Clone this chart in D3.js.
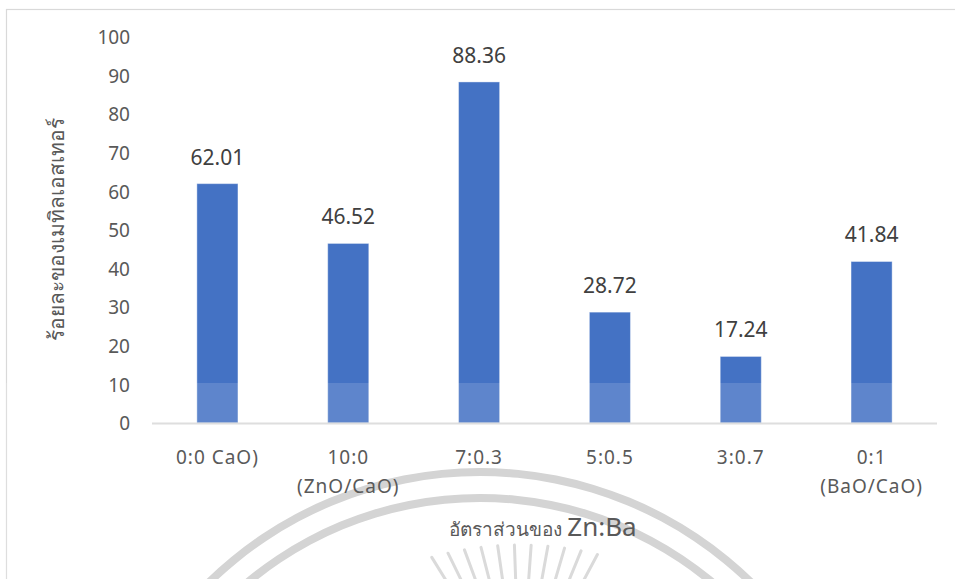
<!DOCTYPE html>
<html>
<head>
<meta charset="utf-8">
<script src="https://cdn.jsdelivr.net/npm/d3@7"></script>
<style>
  html, body { margin: 0; padding: 0; background: #fff; }
  svg { display: block; }
  text { font-family: "Noto Sans", "Open Sans", sans-serif; }
</style>
</head>
<body>
<svg id="chart" width="955" height="579"></svg>
<script>
// Ratio labels (two-line where the category has a parenthetical)
const categories = ["0:0 CaO)", "10:0\n(ZnO/CaO)", "7:0.3", "5:0.5", "3:0.7", "0:1\n(BaO/CaO)"];
// Methyl ester yield (%)
const yieldValues = [62.01, 46.52, 88.36, 28.72, 17.24, 41.84];
const yTicks = [0, 10, 20, 30, 40, 50, 60, 70, 80, 90, 100];
const yTitle = "ร้อยละของเมทิลเอสเทอร์";
const xTitleThai = "อัตราส่วนของ ";
const xTitleLatin = "Zn:Ba";

const svg = d3.select("#chart");
const W = 955, H = 579;

const x = d3.scaleBand()
  .domain(categories)
  .range([152, 937])
  .paddingInner(0.686)
  .paddingOuter(0.343);

const y = d3.scaleLinear().domain([0, 100]).range([423, 37]);

// chart frame
svg.append("rect")
  .attr("x", 6.5).attr("y", 9.5)
  .attr("width", W + 20).attr("height", H + 20)
  .attr("fill", "#fff").attr("stroke", "#d9d9d9").attr("stroke-width", 1.2);

// bars
svg.append("g").selectAll("rect")
  .data(yieldValues)
  .join("rect")
  .attr("x", (d, i) => x(categories[i]))
  .attr("width", x.bandwidth())
  .attr("y", d => y(d))
  .attr("height", d => y(0) - y(d))
  .attr("fill", "#4472c4")
  .attr("stroke", "#ffffff")
  .attr("stroke-opacity", 0.4)
  .attr("stroke-width", 1);

// x axis baseline
svg.append("line")
  .attr("x1", 152).attr("x2", 937)
  .attr("y1", y(0) + 0.5).attr("y2", y(0) + 0.5)
  .attr("stroke", "#d9d9d9").attr("stroke-width", 2);

// light seal watermark: white veil over the lower part plus grey arcs and rays
const wm = svg.append("g");
wm.append("rect")
  .attr("x", 0).attr("y", 383)
  .attr("width", W).attr("height", H - 383)
  .attr("fill", "#ffffff").attr("opacity", 0.14);

const arc = d3.arc();
const seal = wm.append("g").attr("transform", "translate(480,860)");
[[384, 392], [358, 366]].forEach(([r0, r1]) => {
  seal.append("path")
    .attr("d", arc({ innerRadius: r0, outerRadius: r1, startAngle: -Math.PI / 2, endAngle: Math.PI / 2 }))
    .attr("fill", "#d4d4d4");
});
// rays start on a shallow arc and lean in towards a point below them
const rc = [520, 865], rr = 320, focus = [520, 700];
d3.range(-16, 17, 3).forEach(a => {
  const t = (a - 90) * Math.PI / 180;
  const px = rc[0] + Math.cos(t) * rr, py = rc[1] + Math.sin(t) * rr;
  const dx = focus[0] - px, dy = focus[1] - py, len = Math.hypot(dx, dy);
  wm.append("line")
    .attr("x1", px).attr("y1", py)
    .attr("x2", px + dx / len * 40).attr("y2", py + dy / len * 40)
    .attr("stroke", "#dadada").attr("stroke-width", 3).attr("stroke-linecap", "round");
});

// y axis tick labels
const yAxis = d3.axisLeft(y).tickValues(yTicks).tickSize(0).tickPadding(0).tickFormat(d3.format("d"));
const gy = svg.append("g").attr("transform", "translate(130,0)").call(yAxis);
gy.select(".domain").remove();
gy.selectAll("text")
  .attr("fill", "#595959")
  .style("font-size", "19px")
  .attr("dy", "0.35em");

// x axis category labels
const xAxis = d3.axisBottom(x).tickSize(0).tickFormat("");
const gx = svg.append("g").attr("transform", `translate(0,${y(0)})`).call(xAxis);
gx.select(".domain").remove();
gx.selectAll(".tick").each(function (d) {
  const lines = d.split("\n");
  const t = d3.select(this).append("text")
    .attr("text-anchor", "middle")
    .attr("fill", "#595959")
    .style("font-size", "19px")
    .style("letter-spacing", "1px");
  lines.forEach((ln, k) => {
    t.append("tspan").attr("x", 0).attr("y", 41 + k * 29).text(ln);
  });
});

// value labels above the bars
svg.append("g").selectAll("text")
  .data(yieldValues)
  .join("text")
  .attr("x", (d, i) => x(categories[i]) + x.bandwidth() / 2)
  .attr("y", d => y(d) - 19)
  .attr("text-anchor", "middle")
  .attr("fill", "#404040")
  .style("font-size", "21px")
  .text(d => d3.format(".2f")(d));

// axis titles
svg.append("text")
  .attr("transform", "translate(64,229) rotate(-90)")
  .attr("text-anchor", "middle")
  .attr("fill", "#595959")
  .style("font-size", "21px")
  .text(yTitle);

const xt = svg.append("text")
  .attr("x", 543).attr("y", 536)
  .attr("text-anchor", "middle")
  .attr("fill", "#595959");
xt.append("tspan").style("font-size", "19px").text(xTitleThai);
xt.append("tspan").style("font-size", "26px").text(xTitleLatin);
</script>
</body>
</html>
